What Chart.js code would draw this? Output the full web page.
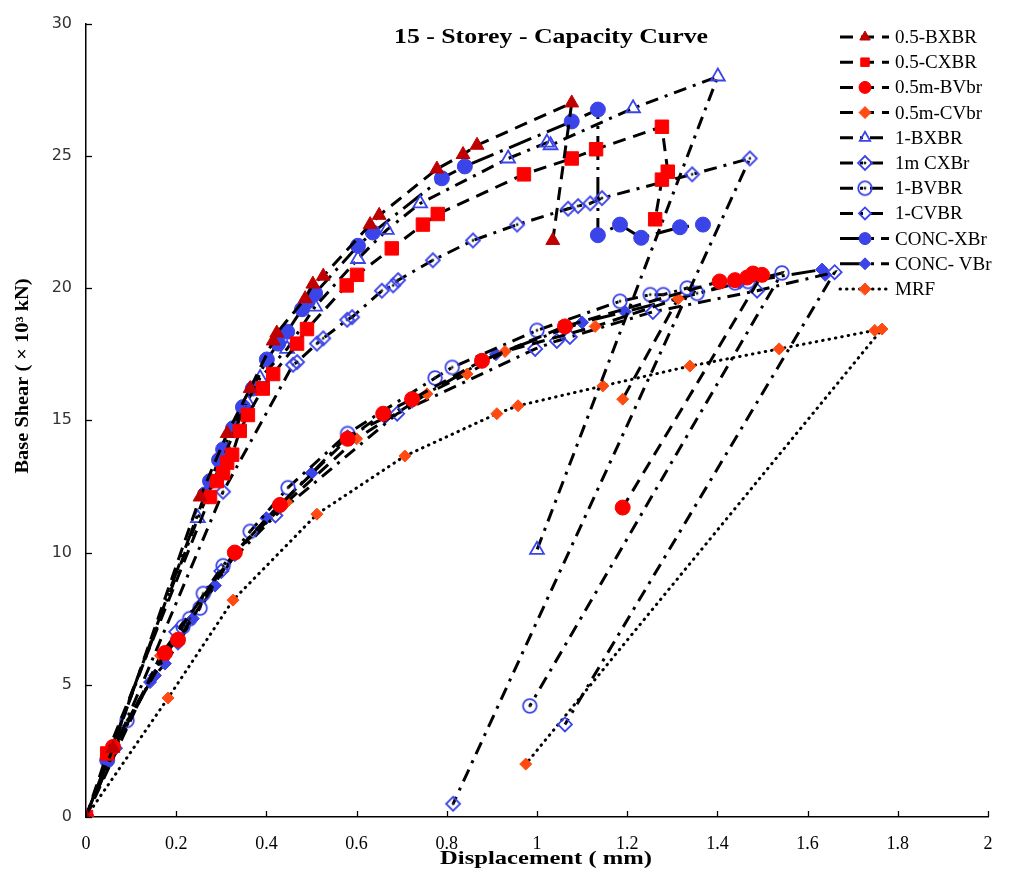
<!DOCTYPE html>
<html lang="en">
  <head>
    <meta charset="UTF-8" />
    <title>15 - Storey - Capacity Curve</title>
    <script src="https://cdn.jsdelivr.net/npm/chart.js"></script>
    <style>
      body { margin: 0; background: #fff; }
    </style>
  </head>
  <body>
    <canvas id="capacityChart" width="1010" height="872"></canvas>

    <script>
      // tick values
      const xTicks = [0, 0.2, 0.4, 0.6, 0.8, 1, 1.2, 1.4, 1.6, 1.8, 2];
      const yTicks = [0, 5, 10, 15, 20, 25, 30];

      // displacement (mm) / base shear (x10^3 kN) for each model
      const bxbr05X = [0, 0.06, 0.253, 0.313, 0.364, 0.415, 0.423, 0.486, 0.503, 0.526, 0.63, 0.65, 0.778, 0.836, 0.867, 1.077, 1.035];
      const bxbr05Y = [0, 2.6, 12.1, 14.5, 16.2, 18.0, 18.3, 19.6, 20.15, 20.45, 22.4, 22.75, 24.5, 25.05, 25.4, 27.0, 21.8];

      const cxbr05X = [0, 0.047, 0.275, 0.29, 0.304, 0.313, 0.324, 0.341, 0.359, 0.392, 0.415, 0.468, 0.49, 0.578, 0.601, 0.678, 0.747, 0.78, 0.971, 1.077, 1.131, 1.277, 1.29, 1.277, 1.262];
      const cxbr05Y = [0, 2.4, 12.1, 12.7, 13.0, 13.4, 13.7, 14.6, 15.2, 16.2, 16.75, 17.9, 18.45, 20.1, 20.5, 21.5, 22.4, 22.8, 24.3, 24.9, 25.25, 26.1, 24.4, 24.1, 22.6];

      const bvbr05X = [0, 0.06, 0.175, 0.204, 0.33, 0.43, 0.58, 0.659, 0.723, 0.878, 1.062, 1.405, 1.439, 1.466, 1.479, 1.499, 1.19];
      const bvbr05Y = [0, 2.65, 6.2, 6.7, 10.0, 11.8, 14.3, 15.25, 15.8, 17.25, 18.55, 20.25, 20.3, 20.4, 20.55, 20.5, 11.7];

      const cvbr05X = [0, 0.165, 0.33, 0.445, 0.6, 0.756, 0.845, 0.929, 1.129, 1.313, 1.19];
      const cvbr05Y = [0, 6.1, 10.0, 11.9, 14.3, 16.0, 16.75, 17.6, 18.55, 19.6, 15.8];

      const bxbr1X = [0, 0.248, 0.357, 0.386, 0.446, 0.508, 0.603, 0.667, 0.741, 0.936, 1.022, 1.03, 1.213, 1.401, 1.0];
      const bxbr1Y = [0, 11.3, 15.7, 16.6, 17.7, 19.3, 21.1, 22.2, 23.2, 24.9, 25.5, 25.4, 26.8, 28.0, 10.1];

      const cxbr1X = [0, 0.304, 0.459, 0.468, 0.512, 0.526, 0.579, 0.59, 0.656, 0.681, 0.692, 0.769, 0.858, 0.956, 1.069, 1.091, 1.118, 1.144, 1.344, 1.472, 0.814];
      const cxbr1Y = [0, 12.3, 17.1, 17.2, 17.9, 18.1, 18.8, 18.9, 19.9, 20.1, 20.3, 21.05, 21.8, 22.4, 23.0, 23.1, 23.2, 23.4, 24.3, 24.9, 0.5];

      const bvbr1X = [0, 0.091, 0.215, 0.23, 0.253, 0.26, 0.304, 0.364, 0.448, 0.58, 0.774, 0.812, 1.0, 1.184, 1.251, 1.28, 1.333, 1.355, 1.439, 1.468, 1.543, 0.984];
      const bvbr1Y = [0, 3.65, 7.2, 7.5, 7.9, 8.45, 9.5, 10.8, 12.45, 14.5, 16.6, 17.0, 18.4, 19.5, 19.75, 19.75, 20.0, 19.8, 20.2, 20.25, 20.57, 4.2];

      const cvbr1X = [0, 0.064, 0.2, 0.3, 0.42, 0.69, 0.996, 1.044, 1.073, 1.257, 1.488, 1.66, 1.062];
      const cvbr1Y = [0, 2.6, 7.0, 9.3, 11.4, 15.25, 17.7, 18.0, 18.15, 19.1, 19.9, 20.6, 3.5];

      const concXX = [0, 0.047, 0.264, 0.275, 0.295, 0.304, 0.326, 0.348, 0.37, 0.401, 0.426, 0.446, 0.479, 0.492, 0.508, 0.603, 0.636, 0.789, 0.84, 1.077, 1.135, 1.135, 1.184, 1.231, 1.317, 1.368];
      const concXY = [0, 2.15, 12.2, 12.7, 13.5, 13.9, 14.7, 15.5, 16.2, 17.3, 17.9, 18.35, 19.2, 19.5, 19.8, 21.6, 22.1, 24.15, 24.6, 26.3, 26.75, 22.0, 22.4, 21.9, 22.3, 22.4];

      const concVX = [0, 0.047, 0.142, 0.153, 0.175, 0.204, 0.237, 0.286, 0.33, 0.4, 0.5, 0.58, 0.663, 0.723, 0.909, 1.1, 1.195, 1.45, 1.632, 1.639];
      const concVY = [0, 2.15, 5.1, 5.35, 5.8, 6.55, 7.5, 8.75, 9.9, 11.3, 13.0, 14.4, 15.1, 15.7, 17.5, 18.7, 19.1, 20.2, 20.7, 20.5];

      const mrfX = [0, 0.182, 0.326, 0.512, 0.707, 0.911, 0.958, 1.146, 1.339, 1.537, 1.749, 1.765, 0.975];
      const mrfY = [0, 4.5, 8.2, 11.45, 13.65, 15.25, 15.55, 16.3, 17.05, 17.7, 18.4, 18.45, 2.0];

      const toPoints = (xs, ys) => xs.map((x, i) => ({ x: x, y: ys[i] }));

      const DARKRED = "#C00000";
      const RED = "#FF0000";
      const ORANGE = "#FF4A12";
      const BLUE = "#3B44E8";
      const DASH = [13, 8];
      const DASHDOT = [13, 7, 3, 7];
      const LONGDOT = [24, 7, 3, 7];
      const DOTS = [0.5, 6];

      // open marker with a small dot in the middle (1-BVBR, 1m CXBr)
      function dottedMarker(shape) {
        const c = document.createElement("canvas");
        c.width = 18;
        c.height = 18;
        const g = c.getContext("2d");
        g.strokeStyle = BLUE;
        g.lineWidth = 1.8;
        g.beginPath();
        if (shape === "circle") {
          g.arc(9, 9, 6.8, 0, Math.PI * 2);
        } else {
          g.moveTo(9, 2);
          g.lineTo(16, 9);
          g.lineTo(9, 16);
          g.lineTo(2, 9);
          g.closePath();
        }
        g.stroke();
        g.fillStyle = "#222";
        g.beginPath();
        g.arc(9, 9, 1.4, 0, Math.PI * 2);
        g.fill();
        return c;
      }

      function series(label, xs, ys, dash, style, radius, color, open) {
        return {
          label: label,
          data: toPoints(xs, ys),
          showLine: true,
          borderColor: "#000",
          borderWidth: 3,
          borderDash: dash,
          borderCapStyle: dash === DOTS ? "round" : "butt",
          pointStyle: style,
          pointRadius: radius,
          pointHoverRadius: radius,
          pointBackgroundColor: open ? "rgba(255,255,255,0)" : color,
          pointBorderColor: color,
          pointBorderWidth: open ? 1.8 : 1,
          fill: false,
          tension: 0,
        };
      }

      const datasets = [
        series("0.5-BXBR", bxbr05X, bxbr05Y, DASH, "triangle", 8, DARKRED, false),
        series("0.5-CXBR", cxbr05X, cxbr05Y, DASH, "rect", 9.5, RED, false),
        series("0.5m-BVbr", bvbr05X, bvbr05Y, DASH, "circle", 7.5, RED, false),
        series("0.5m-CVbr", cvbr05X, cvbr05Y, DASH, "rectRot", 6, ORANGE, false),
        series("1-BXBR", bxbr1X, bxbr1Y, DASHDOT, "triangle", 8, BLUE, true),
        series("1m CXBr", cxbr1X, cxbr1Y, DASHDOT, dottedMarker("diamond"), 7, BLUE, true),
        series("1-BVBR", bvbr1X, bvbr1Y, DASHDOT, dottedMarker("circle"), 7, BLUE, true),
        series("1-CVBR", cvbr1X, cvbr1Y, DASHDOT, "rectRot", 7, BLUE, true),
        series("CONC-XBr", concXX, concXY, LONGDOT, "circle", 7.5, BLUE, false),
        series("CONC- VBr", concVX, concVY, LONGDOT, "rectRot", 6.5, BLUE, false),
        series("MRF", mrfX, mrfY, DOTS, "rectRot", 6, ORANGE, false),
      ];

      // draw text stretched horizontally to a target width (reference font is wider)
      function fitText(ctx, text, width) {
        const w = ctx.measureText(text).width;
        ctx.save();
        ctx.scale(width / w, 1);
        ctx.fillText(text, 0, 0);
        ctx.restore();
      }

      // title, inward ticks, axis titles and legend drawn on top
      const decorPlugin = {
        id: "decor",
        afterDraw(chart) {
          const ctx = chart.ctx;
          const area = chart.chartArea;
          const xs = chart.scales.x;
          const ys = chart.scales.y;
          ctx.save();
          ctx.strokeStyle = "#000";
          ctx.lineWidth = 1.3;
          ctx.setLineDash([]);
          xTicks.forEach((v) => {
            const px = Math.round(xs.getPixelForValue(v)) + 0.5;
            ctx.beginPath();
            ctx.moveTo(px, area.bottom);
            ctx.lineTo(px, area.bottom - 6);
            ctx.stroke();
          });
          yTicks.forEach((v) => {
            const py = Math.round(ys.getPixelForValue(v)) + 0.5;
            ctx.beginPath();
            ctx.moveTo(area.left, py);
            ctx.lineTo(area.left + 6, py);
            ctx.stroke();
          });

          ctx.fillStyle = "#000";
          ctx.textAlign = "center";
          ctx.textBaseline = "middle";

          ctx.save();
          ctx.translate(551, 38);
          ctx.font = 'bold 21px "Liberation Serif"';
          fitText(ctx, "15 - Storey - Capacity Curve", 314);
          ctx.restore();

          ctx.save();
          ctx.translate(546, 859);
          ctx.font = 'bold 19px "Liberation Serif"';
          fitText(ctx, "Displacement ( mm)", 212);
          ctx.restore();

          ctx.save();
          ctx.translate(23, 376);
          ctx.rotate(-Math.PI / 2);
          ctx.font = 'bold 18px "Liberation Serif"';
          fitText(ctx, "Base Shear ( \u00d7 10\u00b3 kN)", 195);
          ctx.restore();

          // legend
          ctx.textAlign = "left";
          ctx.font = '19px "Liberation Serif"';
          chart.data.datasets.forEach((ds, i) => {
            const cy = 37 + i * 25.2;
            ctx.save();
            ctx.strokeStyle = "#000";
            ctx.lineWidth = 3;
            ctx.lineCap = ds.borderCapStyle;
            ctx.setLineDash(ds.borderDash);
            ctx.beginPath();
            ctx.moveTo(840, cy);
            ctx.lineTo(889, cy);
            ctx.stroke();
            ctx.setLineDash([]);
            ctx.fillStyle = ds.pointBackgroundColor;
            ctx.strokeStyle = ds.pointBorderColor;
            ctx.lineWidth = ds.pointBorderWidth;
            Chart.helpers.drawPoint(
              ctx,
              { pointStyle: ds.pointStyle, radius: Math.min(ds.pointRadius, 6), borderWidth: ds.pointBorderWidth, rotation: 0 },
              865,
              cy
            );
            ctx.restore();
            ctx.fillStyle = "#000";
            ctx.fillText(ds.label, 895, cy + 1);
          });
          ctx.restore();
        },
      };

      new Chart(document.getElementById("capacityChart").getContext("2d"), {
        type: "scatter",
        data: { datasets: datasets },
        options: {
          responsive: false,
          animation: false,
          events: [],
          layout: { padding: { top: 22, right: 22, left: 0, bottom: 0 } },
          plugins: {
            legend: { display: false },
            tooltip: { enabled: false },
          },
          scales: {
            x: {
              type: "linear",
              min: 0,
              max: 2,
              afterBuildTicks: (s) => {
                s.ticks = xTicks.map((v) => ({ value: v }));
              },
              afterFit: (s) => {
                s.height = 55;
              },
              grid: { display: false, drawTicks: false },
              border: { display: true, color: "#000", width: 1.5 },
              ticks: {
                color: "#000",
                padding: 16,
                font: { family: "Liberation Serif", size: 18 },
                maxRotation: 0,
                callback: (v) => String(+v.toFixed(1)),
              },
            },
            y: {
              type: "linear",
              min: 0,
              max: 30,
              afterBuildTicks: (s) => {
                s.ticks = yTicks.map((v) => ({ value: v }));
              },
              afterFit: (s) => {
                s.width = 86;
              },
              grid: { display: false, drawTicks: false },
              border: { display: true, color: "#000", width: 1.5 },
              ticks: {
                color: "#333",
                padding: 14,
                font: { family: "DejaVu Sans", size: 16 },
              },
            },
          },
        },
        plugins: [decorPlugin],
      });
    </script>
  </body>
</html>
